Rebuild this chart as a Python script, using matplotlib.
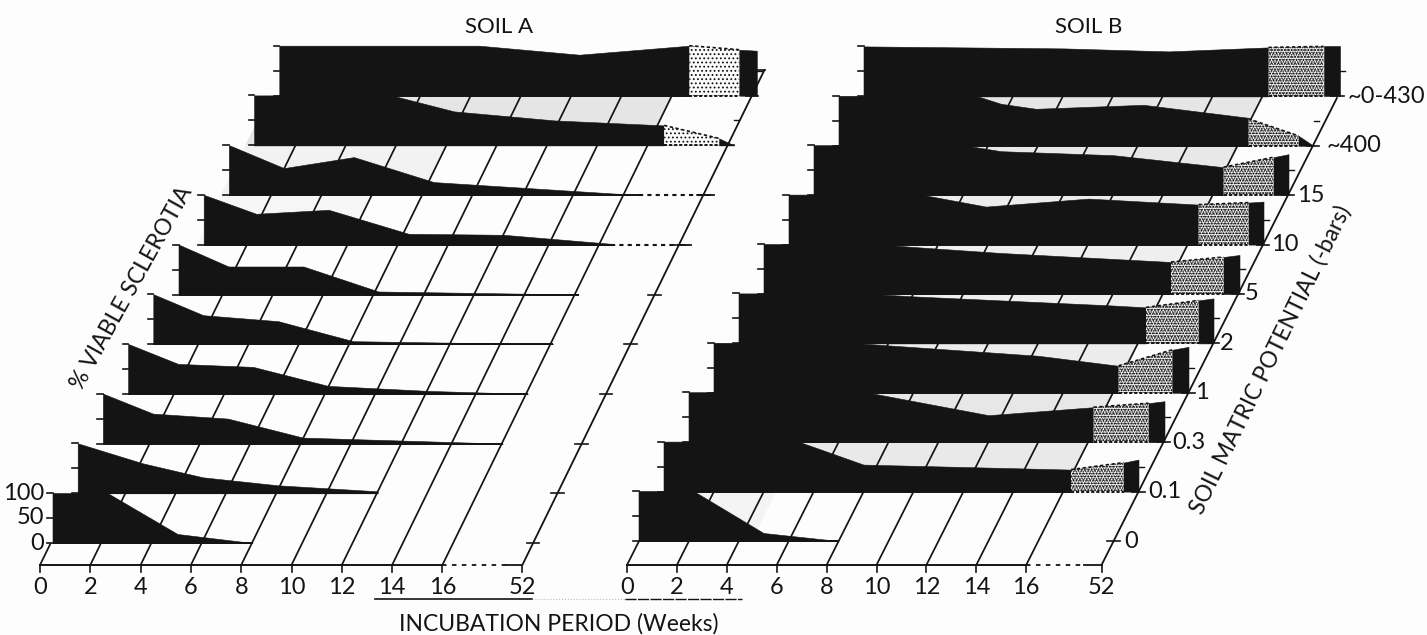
##VIABILITY OF SCLEROTIA - SOIL A AND SOIL B##

import matplotlib
matplotlib.use('Agg')
import matplotlib.pyplot as plt
from matplotlib.patches import Polygon
from matplotlib.transforms import Affine2D

plt.rcParams['font.family'] = ['Lato', 'DejaVu Sans']
plt.rcParams['hatch.linewidth'] = 0.8

##DATA - one list per soil matric potential, row 0 is the front row

week_labels = ['0', '2', '4', '6', '8', '10', '12', '14', '16', '52']
week_ticks = [0, 2, 4, 6, 8, 10, 12, 14, 16]
potential_labels = ['0', '0.1', '0.3', '1', '2', '5', '10', '15', '~400', '~0-430']

soil_a_weeks = [
    [0, 2.2, 5, 8],
    [0, 2.6, 5, 8, 10, 12],
    [0, 2, 5, 8, 12, 16],
    [0, 2, 5, 8, 12, 16],
    [0, 2, 5, 8, 16],
    [0, 2, 5, 8, 16],
    [0, 2.1, 5, 8.2, 12, 16.3],
    [0, 2.2, 5, 8.2, 16.4],
    [0, 5.5, 8, 12, 16.4],
    [0, 8, 12, 16.4],
]
soil_a_viable = [
    [100, 100, 18, 0],
    [100, 60, 32, 16, 10, 4],
    [100, 60, 50, 12, 6, 0],
    [100, 60, 54, 16, 6, 0],
    [100, 58, 46, 6, 0],
    [100, 56, 56, 6, 0],
    [100, 62, 70, 22, 20, 2],
    [100, 54, 76, 26, 0],
    [100, 100, 68, 50, 40],
    [100, 100, 82, 100],
]
soil_b_weeks = [
    [0, 2.2, 5, 8],
    [0, 5.4, 8, 13, 16.3],
    [0, 7.1, 12, 16.2],
    [0, 5.5, 13, 16.2],
    [0, 5, 7, 10.5, 14.9, 16.3],
    [0, 4.5, 6, 9.5, 16.3],
    [0, 5.3, 7.9, 12, 16.4],
    [0, 6, 7.5, 12, 16.4],
    [0, 5.5, 6.5, 7.9, 12.2, 16.4],
    [0, 8, 12.2, 16.2],
]
soil_b_viable = [
    [100, 100, 16, 0],
    [100, 100, 54, 48, 44],
    [100, 100, 54, 70],
    [100, 100, 74, 54],
    [100, 100, 94, 86, 76, 72],
    [100, 100, 94, 82, 64],
    [100, 100, 76, 92, 80],
    [100, 100, 88, 80, 56],
    [100, 100, 84, 74, 82, 56],
    [100, 96, 90, 98],
]

# stippled part of the last interval and the solid 52 week piece after it
soil_a_stipple_rows = [8, 9]
soil_a_tail_weeks = [[16.4, 18.6, 19.2], [16.4, 18.4, 19.1]]
soil_a_tail_viable = [[40, 14, 0], [100, 92, 90]]
soil_b_stipple_rows = [1, 2, 3, 4, 5, 6, 7, 8, 9]
soil_b_tail_weeks = [
    [16.3, 18.4, 19.0],
    [16.2, 18.4, 19.04],
    [16.2, 18.35, 19.0],
    [16.3, 18.4, 19.0],
    [16.3, 18.4, 19.04],
    [16.4, 18.4, 19.0],
    [16.4, 18.4, 19.0],
    [16.4, 18.4, 19.0],
    [16.2, 18.4, 19.04],
]
soil_b_tail_viable = [
    [44, 58, 64],
    [70, 78, 82],
    [54, 86, 92],
    [72, 86, 90],
    [64, 74, 78],
    [80, 84, 86],
    [56, 76, 82],
    [54, 20, 0],
    [98, 100, 100],
]

##FIGURE - one axes over the whole picture, in picture pixels

fig = plt.figure(figsize=(14.27, 6.35), dpi=100, facecolor='#fdfdfd')
ax = fig.add_axes([0, 0, 1, 1])
ax.set_xlim(0, 1427)
ax.set_ylim(635, 0)
ax.axis('off')

INK = '#141414'
AXIS_Y = 565


def draw_panel(weeks, viable, stipple_rows, tail_weeks, tail_viable, grey_rows, dotted_rows,
               x0, week_w, slope, pos_52, start0, start_step, base0, base_step, top_h, dots):
    # grid space: week along the floor, height in px above the floor line
    grid = Affine2D([[week_w, slope, x0], [0, -1, AXIS_Y], [0, 0, 1]]) + ax.transData
    upright = Affine2D([[week_w, 0, x0], [0, -1, AXIS_Y], [0, 0, 1]]) + ax.transData
    rows = []
    for n in range(len(weeks)):
        rows.append(Affine2D().scale(25, -0.5).translate(start0 + start_step * n, base0 - base_step * n) + ax.transData)
    heights = [AXIS_Y - (base0 - base_step * n) for n in range(len(weeks))]

    # shaded back walls
    for n, end, shade in grey_rows:
        ax.add_patch(Polygon([(0, heights[n]), (end, heights[n]), (end, heights[n] + base_step), (0, heights[n] + base_step)],
                             transform=grid, facecolor=shade, edgecolor='none', zorder=1))

    # floor and slanted lines
    for w in week_ticks:
        top = heights[-1] if w > 0 else heights[0]
        ax.plot([w, w], [0, top], transform=grid, color=INK, lw=1.25, zorder=2, solid_capstyle='butt')
        ax.plot([w, w], [0, -7], transform=upright, color=INK, lw=1.2, zorder=2)
    ax.plot([0, 16], [0, 0], transform=grid, color=INK, lw=1.4, zorder=2)
    ax.plot([16, pos_52 - 0.7], [0, 0], transform=grid, color=INK, lw=1.3, ls=(0, (2.5, 3)), zorder=2)
    ax.plot([pos_52 - 0.7, pos_52], [0, 0], transform=grid, color=INK, lw=1.3, zorder=2)
    ax.plot([pos_52, pos_52], [0, top_h], transform=grid, color=INK, lw=1.3, zorder=2)
    ax.plot([pos_52, pos_52], [0, -7], transform=upright, color=INK, lw=1.2, zorder=2)
    for h in heights:
        ax.plot([pos_52 - 0.25, pos_52 + 0.25], [h, h], transform=grid, color=INK, lw=1.2, zorder=2)
    for w, lab in zip(week_ticks + [pos_52], week_labels):
        ax.text(w, -23, lab, transform=upright, ha='center', va='center', fontsize=17, color=INK)

    # one silhouette per row
    for n in range(len(weeks)):
        tr = rows[n]
        z = 3 + (len(weeks) - n) * 0.1
        ax.fill_between(weeks[n], viable[n], 0, transform=tr, color=INK, lw=0.4, zorder=z)
        ax.plot([0, weeks[n][-1]], [0, 0], transform=tr, color=INK, lw=1.4, zorder=z, solid_capstyle='butt')
        for v in [0, 50, 100]:
            ax.plot([-0.22, 0], [v, v], transform=tr, color=INK, lw=1.2, zorder=z)
        if n in stipple_rows:
            i = stipple_rows.index(n)
            tw = tail_weeks[i]
            tv = tail_viable[i]
            corners = [(tw[0], 0), (tw[0], tv[0]), (tw[1], tv[1]), (tw[1], 0)]
            ax.add_patch(Polygon(corners, transform=tr, facecolor='#fbfbfb', edgecolor='none', lw=0, zorder=z))
            # overlaid dot screens of different pitch give an uneven stipple
            for d in dots:
                ax.add_patch(Polygon(corners, transform=tr, facecolor='none', edgecolor=INK, hatch=d, lw=0, zorder=z))
            ax.plot([tw[0], tw[1]], [tv[0], tv[1]], transform=tr, color=INK, lw=1.2, ls=(0, (2, 1.5)), zorder=z + 0.01)
            ax.plot([tw[0], tw[1]], [0, 0], transform=tr, color=INK, lw=1.4, ls=(0, (1.6, 1)), zorder=z + 0.01)
            ax.fill_between(tw[1:], tv[1:], 0, transform=tr, color=INK, lw=0.4, zorder=z + 0.02)
            ax.plot([tw[2], tw[2] + 0.2], [50, 50], transform=tr, color=INK, lw=1.0, zorder=z)
        if n in dotted_rows:
            end = dotted_rows[n]
            ax.plot([weeks[n][-1], end - 0.5], [0, 0], transform=tr, color=INK, lw=1.5, ls=(0, (2, 2)), zorder=z)
            ax.plot([end - 0.5, end], [0, 0], transform=tr, color=INK, lw=1.3, zorder=z)


##SOIL A

draw_panel(soil_a_weeks, soil_a_viable, soil_a_stipple_rows, soil_a_tail_weeks, soil_a_tail_viable,
           [(8, 16, '#e5e5e5'), (7, 8, '#f2f2f2'), (6, 6, '#f6f6f6')],
           {6: 19.5, 7: 19.4},
           x0=40, week_w=25.15, slope=0.489, pos_52=19.18, start0=52.5, start_step=25.2,
           base0=543, base_step=49.7, top_h=495, dots=['....'])
ax.plot([755, 765], [70, 70], color=INK, lw=1.2, zorder=2)
for v, lab in zip([100, 50, 0], ['100', '50', '0']):
    ax.text(44, 543 - v * 0.5, lab, ha='right', va='center', fontsize=17, color=INK)

##SOIL B

draw_panel(soil_b_weeks, soil_b_viable, soil_b_stipple_rows, soil_b_tail_weeks, soil_b_tail_viable,
           [(8, 16, '#e6e6e6'), (7, 16, '#e8e8e8'), (6, 16, '#ececec'), (5, 16, '#efefef'), (4, 16, '#efefef'),
            (3, 16, '#ececec'), (2, 16, '#e7e7e7'), (1, 16, '#e9e9e9'), (0, 4.5, '#f4f4f4')],
           {},
           x0=627, week_w=24.95, slope=0.504, pos_52=19.02, start0=638.5, start_step=25,
           base0=541, base_step=49.4, top_h=467, dots=['.....', '.......'])

label_x = [1124, 1148, 1172, 1195, 1220, 1245, 1271, 1297, 1327, 1348]
for n, lab in enumerate(potential_labels):
    ax.text(label_x[n], 541 - 49.4 * n, lab, ha='left', va='center', fontsize=17, color=INK)

##TITLES AND AXIS NAMES

ax.text(499, 27, 'SOIL A', ha='center', va='center', fontsize=16, color=INK)
ax.text(1089, 27, 'SOIL B', ha='center', va='center', fontsize=16, color=INK)
ax.text(559, 624, 'INCUBATION PERIOD (Weeks)', ha='center', va='center', fontsize=16.5, color=INK)
ax.text(132, 288, '% VIABLE SCLEROTIA', rotation=61, ha='center', va='center', fontsize=16.5, color=INK)
ax.text(1270, 360, 'SOIL MATRIC POTENTIAL (-bars)', rotation=64, ha='center', va='center', fontsize=16.5, color=INK)

# rule under the x axis labels
ax.plot([375, 532], [599, 599], color=INK, lw=1.2)
ax.plot([532, 625], [599, 599], color='#bbbbbb', lw=0.8, ls=':')
ax.plot([625, 742], [599, 599], color=INK, lw=1.0, ls=(0, (8, 1)))

fig.savefig('out.png', dpi=100, facecolor=fig.get_facecolor())
